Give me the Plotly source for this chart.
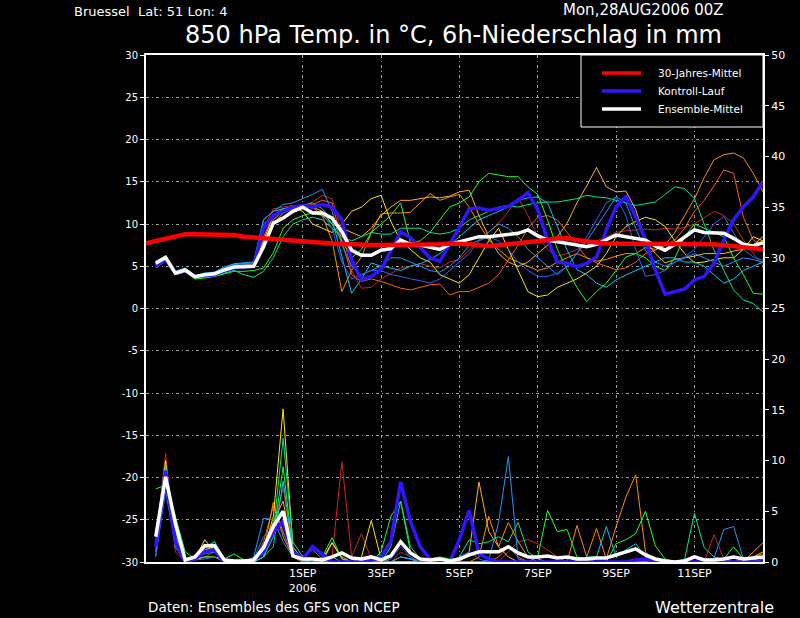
import plotly.graph_objects as go

# ---------------- data ----------------
hours = list(range(6, 379, 6))          # 6h .. 378h after 28AUG2006 00Z
clim_hours = list(range(0, 379, 6))

tick_hours = [96, 144, 192, 240, 288, 336]
tick_text = ["1SEP<br>2006", "3SEP", "5SEP", "7SEP", "9SEP", "11SEP"]

climatology = [7.7, 8.0, 8.3, 8.6, 8.8, 8.8, 8.8, 8.8, 8.8, 8.7,
               8.5, 8.4, 8.3, 8.2, 8.1, 8.0, 7.9, 7.9, 7.8, 7.7,
               7.6, 7.6, 7.5, 7.5, 7.5, 7.5, 7.5, 7.5, 7.5, 7.5,
               7.6, 7.7, 7.7, 7.6, 7.5, 7.4, 7.5, 7.6, 7.7, 7.8,
               7.9, 8.1, 8.3, 8.3, 8.1, 7.9, 7.8, 7.7, 7.7, 7.7,
               7.7, 7.7, 7.7, 7.7, 7.7, 7.7, 7.7, 7.6, 7.6, 7.5,
               7.4, 7.3, 7.1, 7.0]

control_temp = [5.0, 5.8, 4.2, 4.5, 3.8, 3.9, 4.0, 4.5, 4.8, 4.9,
                5.0, 9.5, 11.0, 11.5, 12.0, 12.2, 12.0, 12.3, 12.0, 10.5,
                5.7, 3.4, 3.8, 4.6, 6.8, 9.1, 8.4, 7.2, 6.0, 5.6,
                7.5, 9.6, 11.8, 11.9, 11.6, 11.9, 12.1, 12.8, 13.7, 11.7,
                8.1, 5.5, 5.35, 4.95, 5.35, 6.1, 9.3, 12.05, 13.2, 10.9,
                8.1, 4.56, 1.7, 2.0, 2.3, 3.4, 3.8, 5.35, 8.1, 10.5,
                12.05, 13.2, 15.0]

mean_temp = [5.35, 6.05, 4.17, 4.56, 3.76, 4.0, 4.1, 4.56, 4.9, 4.9,
             5.0, 7.3, 10.1, 10.7, 11.5, 12.0, 11.3, 11.3, 10.7, 9.1,
             6.9, 6.3, 6.3, 6.9, 7.1, 8.1, 7.6, 7.5, 7.2, 7.0,
             7.6, 7.9, 8.2, 8.5, 8.5, 8.6, 8.7, 8.9, 9.3, 8.6,
             8.1, 7.9, 7.7, 7.4, 7.3, 7.6, 8.1, 8.7, 8.5, 8.3,
             8.1, 7.4, 6.9, 7.6, 8.4, 9.3, 9.0, 9.0, 8.9, 8.3,
             7.6, 7.4, 7.8]

m1_temp = [5.5, 6.2, 4.3, 4.7, 3.9, 4.1, 4.3, 4.8, 5.2, 5.3,
           5.4, 9.5, 11.8, 12.0, 12.2, 12.0, 12.6, 13.4, 13.0, 9.0,
           4.5, 2.4, 2.5, 3.5, 4.2, 4.8, 5.0, 5.3, 5.0, 4.8,
           5.5, 5.8, 6.9, 8.0, 9.0, 10.1, 11.5, 13.1, 11.0, 8.5,
           7.0, 6.2, 6.5, 7.0, 7.5, 8.0, 8.5, 9.0, 9.2, 9.3,
           9.4, 9.3, 9.5, 9.4, 9.6, 10.0, 10.8, 11.5, 11.0, 10.0,
           8.1, 6.5, 5.0]
m2_temp = [5.2, 5.9, 4.2, 4.5, 3.7, 3.9, 4.0, 4.6, 5.0, 5.1,
           5.3, 8.5, 11.0, 11.5, 11.8, 12.0, 12.3, 12.8, 12.5, 8.0,
           4.0, 3.2, 3.5, 3.2, 2.8, 2.4, 2.2, 2.5, 2.8, 2.9,
           1.6, 2.0, 2.0, 2.5, 3.0, 4.0, 5.7, 7.5, 9.5, 10.8,
           11.0, 10.5, 9.0, 7.5, 6.0, 5.4, 5.0, 4.6, 4.8, 5.5,
           6.5, 6.9, 7.5, 8.1, 9.5, 11.5, 12.8, 14.5, 16.4, 16.0,
           10.8, 8.1, 7.5]
m3_temp = [5.0, 5.8, 4.1, 4.4, 3.6, 3.8, 4.0, 4.4, 4.8, 4.8,
           4.9, 7.5, 10.5, 11.5, 12.0, 12.3, 12.0, 11.0, 8.0, 2.0,
           4.5, 6.1, 9.0, 11.2, 11.3, 11.3, 11.4, 12.5, 13.6, 12.8,
           13.2, 13.5, 12.0, 10.0, 8.1, 7.0, 6.0, 5.5, 5.0, 4.5,
           4.8, 5.5, 6.0, 6.5, 6.0, 5.6, 5.8, 6.2, 6.5, 6.5,
           7.2, 7.0, 7.5, 9.0, 11.0, 13.0, 15.5, 17.6, 18.2, 18.4,
           17.8, 16.0, 13.8]
m4_temp = [5.4, 6.1, 4.2, 4.6, 3.8, 4.0, 4.1, 4.5, 4.9, 4.8,
           5.0, 7.0, 10.0, 11.3, 11.8, 12.2, 12.0, 11.5, 10.0, 9.5,
           9.0, 8.5, 9.5, 11.0, 12.0, 12.8, 12.8, 13.0, 13.2, 13.1,
           13.3, 13.8, 14.0, 11.0, 8.5, 6.5, 5.5, 5.0, 5.5, 6.5,
           7.5, 8.5, 10.1, 12.5, 14.5, 16.7, 14.4, 13.8, 13.9, 11.7,
           8.1, 6.5, 5.4, 5.8, 6.0, 6.2, 6.5, 6.5, 6.5, 6.8,
           7.0, 7.5, 8.5]
m5_temp = [5.3, 6.0, 4.1, 4.5, 3.7, 3.9, 4.2, 4.6, 5.0, 5.0,
           5.1, 8.0, 11.0, 11.8, 12.0, 11.5, 10.0, 9.5, 9.0, 10.0,
           11.5, 12.0, 13.0, 13.4, 10.3, 8.0, 7.0, 6.0, 5.5, 4.0,
           3.5, 3.0, 4.0, 6.0, 8.0, 9.5, 7.0, 4.5, 2.0, 1.4,
           1.6, 2.5, 3.0, 3.5, 4.2, 5.0, 6.5, 8.5, 9.7, 10.3,
           10.8, 10.5, 9.7, 8.0, 6.5, 5.4, 5.5, 5.8, 6.0, 6.0,
           7.0, 8.5, 8.0]
m6_temp = [4.8, 5.6, 4.0, 4.3, 3.5, 3.6, 3.8, 4.1, 4.4, 4.4,
           4.5, 4.8, 6.6, 9.5, 10.5, 11.0, 11.3, 11.0, 10.0, 8.0,
           6.0, 7.0, 9.0, 10.0, 11.0, 12.5, 7.8, 8.0, 9.0, 10.5,
           12.0, 12.5, 13.2, 15.0, 16.0, 15.8, 15.6, 15.6, 14.4, 13.5,
           10.5, 7.0, 4.6, 2.5, 0.8, 2.0, 3.0, 4.5, 6.1, 6.5,
           6.0, 5.0, 4.5, 6.0, 8.5, 10.0, 9.5, 9.0, 8.5, 6.0,
           4.0, 1.8, 1.7]
m7_temp = [4.9, 5.7, 4.1, 4.4, 3.6, 3.7, 3.8, 4.2, 4.5, 4.0,
           3.7, 4.4, 6.0, 8.5, 10.0, 10.5, 10.8, 10.5, 9.5, 8.5,
           8.0, 8.5, 9.0, 8.8, 8.8, 9.5, 9.5, 9.5, 9.0, 8.8,
           9.0, 9.5, 10.5, 11.0, 11.5, 12.0, 12.2, 12.0, 12.3, 12.5,
           12.6, 12.6, 12.8, 13.0, 13.4, 13.2, 13.1, 12.8, 12.5, 12.2,
           12.4, 12.6, 13.5, 14.4, 14.2, 13.0, 10.0, 6.9, 4.5, 2.2,
           1.0, 0.6, -0.4]
m8_temp = [5.6, 6.2, 4.4, 4.8, 3.9, 4.2, 4.3, 4.9, 5.3, 5.4,
           5.5, 10.5, 11.5, 11.8, 12.0, 12.2, 12.5, 11.8, 10.5, 6.0,
           1.8, 3.5, 5.4, 5.0, 4.8, 4.5, 5.0, 5.3, 5.8, 6.5,
           7.5, 8.5, 9.5, 10.5, 11.0, 11.5, 12.0, 12.8, 13.1, 13.2,
           12.5, 9.7, 6.9, 4.6, 4.0, 3.0, 2.5, 3.4, 4.0, 4.5,
           5.0, 5.5, 6.0, 6.0, 5.5, 5.5, 5.0, 4.0, 3.0, 3.5,
           4.5, 5.0, 5.5]
m9_temp = [5.5, 6.1, 4.3, 4.7, 3.8, 4.1, 4.3, 4.9, 5.2, 5.3,
           5.5, 10.5, 11.5, 12.3, 12.5, 13.0, 13.5, 14.1, 11.5, 7.5,
           5.0, 4.0, 4.5, 5.0, 6.0, 6.0, 5.5, 5.0, 4.5, 4.3,
           5.0, 6.0, 7.5, 8.1, 9.0, 10.0, 9.5, 8.5, 7.0, 6.0,
           5.0, 4.0, 5.0, 6.5, 8.0, 9.7, 11.5, 13.2, 12.5, 9.5,
           6.9, 5.5, 5.0, 5.5, 6.0, 6.5, 6.0, 5.5, 5.0, 5.5,
           6.0, 5.8, 5.5]
m10_temp = [5.4, 6.0, 4.2, 4.6, 3.8, 4.0, 4.2, 4.7, 5.1, 5.2,
            5.4, 10.0, 11.0, 11.5, 11.8, 11.8, 11.5, 11.3, 9.5, 5.5,
            3.5, 4.0, 4.5, 4.5, 4.0, 3.8, 3.5, 3.3, 3.0, 3.5,
            4.5, 5.5, 6.5, 8.0, 8.5, 8.0, 7.0, 5.5, 4.5, 3.8,
            3.8, 4.2, 5.0, 6.5, 8.5, 10.5, 12.5, 13.2, 11.0, 7.0,
            3.8, 4.0, 4.5, 5.5, 6.1, 7.0, 8.5, 10.0, 10.9, 9.0,
            7.0, 6.1, 5.7]

control_prec = [1.5, 9.0, 2.0, 0.0, 0.3, 1.0, 1.2, 0.0, 0.0, 0.0,
                0.2, 1.0, 3.0, 4.0, 1.0, 0.3, 1.5, 0.8, 0.0, 0.0,
                0.0, 0.0, 0.2, 0.5, 2.0, 7.9, 4.0, 1.5, 0.3, 0.2,
                0.0, 2.2, 5.1, 0.8, 0.3, 0.0, 0.0, 0.0, 0.0, 0.0,
                0.0, 0.0, 0.0, 0.0, 0.0, 0.0, 0.0, 0.0, 0.0, 0.2,
                0.3, 0.0, 0.0, 0.0, 0.0, 0.0, 0.0, 0.0, 0.0, 0.0,
                0.0, 0.0, 0.0]
mean_prec = [2.5, 8.4, 3.8, 0.2, 0.5, 1.6, 1.6, 0.2, 0.1, 0.1,
             0.2, 1.4, 3.5, 5.0, 0.6, 0.3, 0.3, 0.2, 0.5, 0.9,
             0.4, 0.3, 0.5, 0.2, 0.6, 2.0, 0.9, 0.3, 0.2, 0.3,
             0.1, 0.3, 0.7, 1.0, 1.0, 1.0, 1.5, 0.9, 0.5, 0.5,
             0.6, 0.4, 0.5, 0.3, 0.3, 0.4, 0.4, 0.7, 1.0, 1.3,
             0.7, 0.3, 0.1, 0.0, 0.1, 0.5, 0.2, 0.2, 0.3, 0.5,
             0.3, 0.4, 0.5]
m1_prec = [2.0, 10.7, 1.0, 0.0, 0.2, 0.5, 1.0, 0.0, 0.0, 0.0,
           0.0, 0.5, 3.5, 7.3, 1.0, 0.0, 0.0, 0.0, 0.5, 9.9,
           0.5, 2.8, 0.3, 0.0, 0.0, 1.0, 0.5, 0.0, 0.0, 0.0,
           0.0, 0.0, 0.0, 0.0, 0.0, 0.0, 1.0, 2.0, 2.2, 1.8,
           1.2, 0.5, 0.0, 0.0, 0.0, 0.0, 0.0, 0.0, 0.0, 0.0,
           0.0, 0.0, 0.0, 0.0, 0.0, 0.0, 0.0, 2.7, 0.3, 0.0,
           0.0, 0.0, 0.2]
m2_prec = [1.0, 9.5, 1.5, 0.0, 0.5, 1.5, 1.0, 0.0, 0.0, 0.0,
           0.0, 2.0, 5.5, 3.0, 0.5, 0.2, 0.0, 0.0, 0.0, 0.0,
           0.0, 0.0, 0.0, 0.0, 0.0, 0.5, 0.3, 0.0, 0.0, 0.0,
           0.0, 0.0, 0.0, 0.0, 0.0, 0.5, 1.5, 0.5, 0.0, 0.0,
           0.0, 0.0, 0.0, 0.0, 0.0, 0.0, 0.0, 0.0, 0.0, 0.0,
           0.0, 0.0, 0.0, 0.0, 0.0, 0.0, 0.0, 0.0, 0.0, 0.0,
           0.0, 0.5, 0.8]
m3_prec = [0.6, 8.5, 1.5, 0.0, 0.2, 0.5, 0.5, 0.0, 0.0, 0.0,
           0.0, 1.0, 5.9, 2.5, 0.5, 0.0, 0.0, 0.0, 0.0, 0.0,
           0.0, 0.0, 0.0, 0.0, 0.0, 0.0, 0.0, 0.0, 0.0, 0.0,
           0.0, 0.0, 0.0, 0.5, 4.5, 1.5, 3.9, 2.0, 0.5, 0.0,
           0.0, 0.0, 0.0, 3.6, 0.5, 3.3, 0.3, 3.5, 6.4, 8.6,
           1.0, 0.0, 0.0, 0.0, 0.0, 0.0, 0.0, 0.0, 0.0, 0.0,
           0.0, 1.0, 1.9]
m4_prec = [1.5, 9.0, 2.5, 0.0, 0.3, 1.2, 1.5, 0.0, 0.0, 0.0,
           0.0, 0.5, 4.0, 6.0, 1.0, 0.2, 0.0, 0.0, 1.9, 0.5,
           0.0, 0.0, 0.0, 0.0, 0.0, 0.0, 0.0, 0.0, 0.0, 0.0,
           0.0, 0.0, 1.0, 7.9, 3.0, 1.5, 0.5, 0.0, 0.0, 0.0,
           0.0, 0.0, 0.0, 0.0, 0.0, 0.0, 0.0, 0.0, 0.0, 0.0,
           0.0, 0.0, 0.0, 0.0, 0.0, 0.0, 0.0, 0.0, 0.0, 0.0,
           0.0, 0.5, 1.0]
m5_prec = [2.5, 10.0, 2.0, 0.0, 0.3, 2.2, 1.0, 0.0, 0.0, 0.0,
           0.0, 1.0, 4.5, 15.1, 1.5, 0.2, 0.0, 0.3, 1.9, 0.3,
           0.0, 0.5, 4.1, 0.3, 0.0, 0.0, 0.0, 0.0, 0.0, 0.0,
           0.2, 0.0, 0.0, 0.0, 0.0, 0.0, 0.0, 0.0, 0.0, 0.0,
           0.0, 0.0, 0.0, 0.0, 0.0, 0.0, 0.0, 0.0, 0.0, 0.0,
           0.0, 0.0, 0.0, 0.0, 0.0, 0.0, 0.0, 0.0, 0.0, 0.0,
           0.3, 0.0, 0.0]
m6_prec = [7.2, 7.6, 4.5, 1.0, 0.3, 0.5, 0.5, 0.3, 0.8, 0.2,
           0.0, 0.5, 2.5, 9.4, 1.0, 0.3, 0.0, 0.5, 2.4, 0.3,
           0.0, 0.0, 0.0, 1.0, 4.5, 6.0, 1.0, 0.3, 0.3, 0.5,
           0.3, 0.0, 0.0, 0.0, 0.0, 0.0, 0.0, 0.0, 0.0, 0.5,
           5.1, 3.0, 3.2, 0.5, 0.3, 0.0, 0.0, 1.8, 2.2, 2.8,
           5.0, 1.6, 0.3, 0.0, 0.0, 0.0, 0.0, 0.0, 0.3, 1.5,
           0.3, 0.2, 0.5]
m7_prec = [3.0, 9.0, 3.5, 0.2, 0.3, 1.5, 2.0, 0.2, 0.0, 0.0,
           0.0, 0.5, 3.0, 12.2, 2.0, 0.5, 0.0, 0.0, 0.5, 0.0,
           0.0, 0.0, 0.0, 0.0, 1.5, 6.0, 1.5, 0.3, 0.0, 0.0,
           0.0, 0.5, 2.2, 1.8, 2.0, 2.5, 2.0, 3.9, 1.0, 0.3,
           0.0, 0.0, 0.0, 0.0, 0.0, 0.0, 0.0, 0.0, 0.0, 0.0,
           0.0, 0.0, 0.0, 0.0, 0.3, 4.8, 1.4, 0.5, 0.3, 0.0,
           0.0, 0.0, 0.0]
m8_prec = [2.0, 9.5, 3.0, 0.0, 0.3, 1.0, 2.0, 0.2, 0.0, 0.0,
           0.0, 0.5, 1.5, 8.0, 1.0, 0.3, 0.0, 0.0, 0.0, 0.0,
           0.0, 0.0, 0.0, 0.0, 0.0, 0.5, 0.3, 0.0, 0.0, 0.0,
           0.0, 0.0, 0.0, 0.0, 0.0, 0.0, 0.0, 0.0, 0.0, 0.0,
           0.0, 0.0, 0.0, 0.0, 0.5, 0.5, 3.5, 0.5, 1.2, 1.8,
           0.5, 0.0, 0.0, 0.0, 0.0, 0.0, 0.0, 0.0, 0.0, 0.0,
           0.0, 0.3, 0.0]
m9_prec = [1.0, 8.0, 2.5, 0.0, 0.3, 0.8, 1.0, 0.0, 0.0, 0.0,
           0.5, 4.3, 4.2, 2.0, 0.5, 0.3, 1.2, 0.3, 0.0, 0.0,
           0.0, 0.0, 0.0, 0.0, 0.0, 0.5, 0.3, 0.0, 0.0, 0.0,
           0.0, 0.0, 0.0, 0.0, 0.2, 3.9, 10.4, 0.3, 0.0, 0.0,
           0.0, 0.0, 0.0, 0.0, 0.0, 0.0, 0.0, 0.0, 0.0, 0.0,
           0.0, 0.0, 0.0, 0.0, 0.0, 0.0, 0.0, 0.4, 3.2, 3.5,
           0.3, 0.0, 0.0]
m10_prec = [0.5, 7.0, 1.5, 0.0, 0.2, 0.3, 0.5, 0.0, 0.0, 0.0,
            0.3, 2.5, 3.5, 3.0, 0.5, 0.2, 0.0, 0.0, 0.0, 0.0,
            0.0, 0.0, 0.0, 0.0, 0.3, 1.5, 0.5, 0.0, 0.0, 0.0,
            0.0, 0.5, 1.0, 0.3, 0.0, 0.0, 0.0, 0.0, 0.0, 0.0,
            0.0, 0.0, 0.0, 0.0, 0.0, 0.0, 0.0, 0.0, 0.0, 0.0,
            0.0, 0.0, 0.0, 0.0, 0.0, 0.0, 0.0, 0.0, 0.0, 0.0,
            0.0, 0.0, 0.3]

member_temps = [m1_temp, m2_temp, m3_temp, m4_temp, m5_temp,
                m6_temp, m7_temp, m8_temp, m9_temp, m10_temp]
member_precs = [m1_prec, m2_prec, m3_prec, m4_prec, m5_prec,
                m6_prec, m7_prec, m8_prec, m9_prec, m10_prec]
member_colors = ["#c8281e", "#ff5a1e", "#ff8c00", "#ffb41e", "#ffe600",
                 "#1eff1e", "#00e68c", "#00c8ff", "#1e96ff", "#2864ff"]

legend_names = ["30-Jahres-Mittel", "Kontroll-Lauf", "Ensemble-Mittel"]
legend_colors = ["#ff0000", "#3214ff", "#ffffff"]

left_ticks = list(range(-30, 31, 5))
left_text = [str(v) for v in left_ticks]
right_ticks = list(range(0, 51, 5))
right_text = [str(v) for v in right_ticks]

# ---------------- figure ----------------
FONT = "DejaVu Sans"
GRID = "#a0a0a0"
fig = go.Figure()

for t, c in zip(member_temps, member_colors):
    fig.add_trace(go.Scatter(x=hours, y=t, mode="lines", line=dict(color=c, width=1),
                             showlegend=False, hoverinfo="skip"))
for p, c in zip(member_precs, member_colors):
    fig.add_trace(go.Scatter(x=hours, y=p, yaxis="y2", mode="lines",
                             line=dict(color=c, width=1), showlegend=False, hoverinfo="skip"))

fig.add_trace(go.Scatter(x=hours, y=control_prec, yaxis="y2", mode="lines",
                         line=dict(color=legend_colors[1], width=3.5), showlegend=False))
fig.add_trace(go.Scatter(x=hours, y=mean_prec, yaxis="y2", mode="lines",
                         line=dict(color=legend_colors[2], width=3.5), showlegend=False))

fig.add_trace(go.Scatter(x=hours, y=control_temp, mode="lines", name=legend_names[1],
                         line=dict(color=legend_colors[1], width=3.5), showlegend=False))
fig.add_trace(go.Scatter(x=hours, y=mean_temp, mode="lines", name=legend_names[2],
                         line=dict(color=legend_colors[2], width=3.5), showlegend=False))
fig.add_trace(go.Scatter(x=clim_hours, y=climatology, mode="lines", name=legend_names[0],
                         line=dict(color=legend_colors[0], width=4.5), showlegend=False))

W, H = 800, 618
L, R, T, B = 146, 763, 55, 562


def px(x):
    return (x - L) / (R - L)


def py(y):
    return (B - y) / (B - T)


fig.update_layout(
    width=W, height=H,
    margin=dict(l=L, r=W - R, t=T, b=H - B, pad=0),
    paper_bgcolor="black", plot_bgcolor="black",
    font=dict(family=FONT, color="white", size=11),
    showlegend=False,
    xaxis=dict(range=[0, 378], tickvals=tick_hours, ticktext=tick_text,
               showgrid=True, gridcolor=GRID, griddash="3px,3px,1px,3px", gridwidth=1,
               showline=True, linecolor="white", linewidth=2, mirror=True,
               ticks="", zeroline=False, tickfont=dict(size=11, color="white")),
    yaxis=dict(range=[-30, 30], tickvals=left_ticks, ticktext=left_text,
               showgrid=True, gridcolor=GRID, griddash="3px,3px,1px,3px", gridwidth=1,
               showline=True, linecolor="white", linewidth=2,
               ticks="outside", ticklen=4, tickcolor="white", tickwidth=1,
               zeroline=False, tickfont=dict(size=10, color="white")),
    yaxis2=dict(range=[0, 50], tickvals=right_ticks, ticktext=right_text,
                overlaying="y", side="right", showgrid=False,
                showline=True, linecolor="white", linewidth=2,
                ticks="outside", ticklen=4, tickcolor="white", tickwidth=1,
                zeroline=False, tickfont=dict(size=11, color="white")),
)

# legend box drawn as a framed panel in the upper-right corner
fig.add_shape(type="rect", xref="paper", yref="paper",
              x0=px(581), x1=px(763), y0=py(127), y1=py(55),
              line=dict(color="white", width=1), fillcolor="black", layer="above")
for k, (name, col) in enumerate(zip(legend_names, legend_colors)):
    yy = 73 + 18 * k
    fig.add_shape(type="line", xref="paper", yref="paper",
                  x0=px(602), x1=px(641), y0=py(yy), y1=py(yy),
                  line=dict(color=col, width=3.5), layer="above")
    fig.add_annotation(text=name, xref="paper", yref="paper",
                       x=px(656), y=py(yy), xanchor="left", yanchor="middle", showarrow=False,
                       font=dict(family=FONT, size=10.5, color="white"))

fig.add_annotation(text="Bruessel\u00a0\u00a0Lat: 51 Lon: 4", xref="paper", yref="paper",
                   x=px(72), y=py(11), xanchor="left", yanchor="middle", showarrow=False,
                   font=dict(family=FONT, size=13, color="white"))
fig.add_annotation(text="Mon,28AUG2006 00Z", xref="paper", yref="paper",
                   x=px(726), y=py(10), xanchor="right", yanchor="middle", showarrow=False,
                   font=dict(family=FONT, size=15, color="white"))
fig.add_annotation(text="850 hPa Temp. in °C, 6h-Niederschlag in mm", xref="paper", yref="paper",
                   x=px(453), y=py(35), xanchor="center", yanchor="middle", showarrow=False,
                   font=dict(family=FONT, size=24, color="white"))
fig.add_annotation(text="Daten: Ensembles des GFS von NCEP", xref="paper", yref="paper",
                   x=px(146), y=py(607), xanchor="left", yanchor="middle", showarrow=False,
                   font=dict(family=FONT, size=13.5, color="white"))
fig.add_annotation(text="Wetterzentrale", xref="paper", yref="paper",
                   x=px(776), y=py(607), xanchor="right", yanchor="middle", showarrow=False,
                   font=dict(family=FONT, size=16, color="white"))

fig.write_html("out.html",
               config={"displayModeBar": False},
               post_script="document.body.style.margin='0';"
                           "document.body.style.background='black';"
                           "document.documentElement.style.background='black';")
